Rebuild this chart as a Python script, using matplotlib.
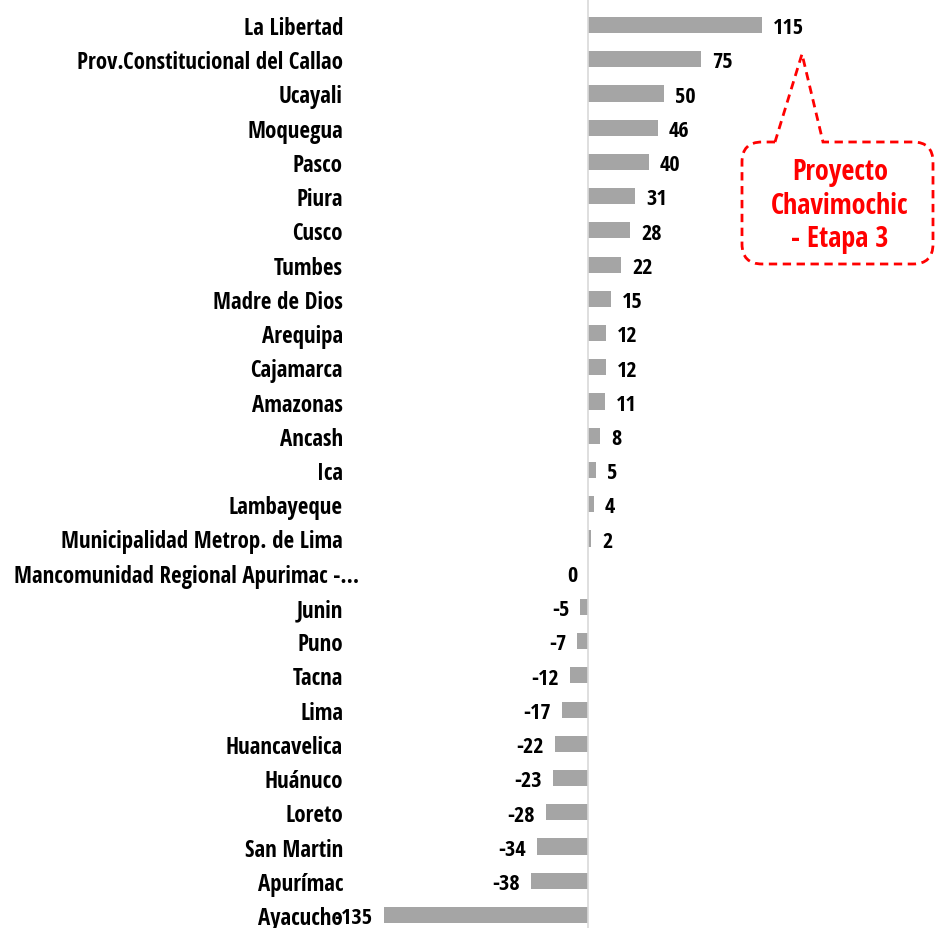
import matplotlib
matplotlib.use("Agg")
import matplotlib.pyplot as plt
from matplotlib import font_manager
from matplotlib.path import Path
from matplotlib.patches import PathPatch
from matplotlib.transforms import ScaledTranslation

categories = ["La Libertad", "Prov.Constitucional del Callao", "Ucayali", "Moquegua", "Pasco",
              "Piura", "Cusco", "Tumbes", "Madre de Dios", "Arequipa", "Cajamarca", "Amazonas",
              "Ancash", "Ica", "Lambayeque", "Municipalidad Metrop. de Lima",
              "Mancomunidad Regional Apurimac -...", "Junin", "Puno", "Tacna", "Lima",
              "Huancavelica", "Huánuco", "Loreto", "San Martin", "Apurímac", "Ayacucho"]
values = [115, 75, 50, 46, 40, 31, 28, 22, 15, 12, 12, 11, 8, 5, 4, 2, 0,
          -5, -7, -12, -17, -22, -23, -28, -34, -38, -135]
callout_text = "Proyecto\nChavimochic\n- Etapa 3"

names = {f.name for f in font_manager.fontManager.ttflist}
fam = "DejaVu Sans"
for cand in ["Liberation Sans Narrow", "Open Sans Condensed", "Roboto Condensed", "Noto Sans", "Lato"]:
    if cand in names:
        fam = cand
        break
plt.rcParams['font.family'] = [fam, 'DejaVu Sans']

W, H = 935, 929
fig = plt.figure(figsize=(W/100, H/100), dpi=100)
renderer = fig.canvas.get_renderer()

def width_at(text, base=12):
    t = fig.text(0, 0, text, fontsize=base, fontweight="bold")
    w = t.get_window_extent(renderer).width
    t.remove()
    return w

cat_fs = 12 * (271 + 342) / (width_at("Prov.Constitucional del Callao") +
                             width_at("Mancomunidad Regional Apurimac -..."))
val_fs = 12 * 31 / width_at("115")
call_fs = 12 * 138 / width_at("Chavimochic")

# pixel geometry
x0px = 588.0
ppu = 174.0 / 115.0
ax_left_px, ax_right_px = 350.0, 935.0
y_first, y_last = 26.0, 916.0
step = (y_last - y_first) / (len(categories) - 1)
ax_top_px = y_first - step / 2
ax_bot_px = y_last + step / 2

ax = fig.add_axes([ax_left_px / W, 1 - ax_bot_px / H, (ax_right_px - ax_left_px) / W,
                   (ax_bot_px - ax_top_px) / H])
ax.set_xlim((ax_left_px - x0px) / ppu, (ax_right_px - x0px) / ppu)
n = len(categories)
ypos = list(range(n))
ax.set_ylim(n - 0.5, -0.5)
ax.barh(ypos, values, height=0.47, color="#A5A5A5")
ax.plot([0, 0], [-0.85, n - 0.5], color="#D9D9D9", lw=1.2, clip_on=False)

for s in ax.spines.values():
    s.set_visible(False)
ax.set_xticks([])
ax.set_yticks(ypos)
ax.set_yticklabels(categories, fontsize=cat_fs, fontweight="bold")
ax.tick_params(axis="y", length=0, pad=7 * 0.72)
for lab in ax.get_yticklabels():
    if lab.get_text().startswith("Mancomunidad"):
        lab.set_transform(lab.get_transform() + ScaledTranslation(16 / 100, 0, fig.dpi_scale_trans))

off = 11 / ppu
for y, v in zip(ypos, values):
    if v > 0:
        ax.text(v + off, y + 0.08, str(v), ha="left", va="center", fontsize=val_fs, fontweight="bold")
    else:
        ax.text(v - off, y + 0.08, str(v), ha="right", va="center", fontsize=val_fs, fontweight="bold")

# callout
def P(x, y):
    return (x / W, 1 - y / H)

L, R, T, B, r = 742, 933, 143, 265, 20
verts = [P(775, T), P(L + r, T), P(L, T), P(L, T + r), P(L, B - r), P(L, B), P(L + r, B),
         P(R - r, B), P(R, B), P(R, B - r), P(R, T + r), P(R, T), P(R - r, T),
         P(823, T), P(802, 55), P(775, T)]
codes = [Path.MOVETO, Path.LINETO, Path.CURVE3, Path.CURVE3, Path.LINETO, Path.CURVE3, Path.CURVE3,
         Path.LINETO, Path.CURVE3, Path.CURVE3, Path.LINETO, Path.CURVE3, Path.CURVE3,
         Path.LINETO, Path.LINETO, Path.CLOSEPOLY]
patch = PathPatch(Path(verts, codes), transform=fig.transFigure, facecolor="white",
                  edgecolor="#FF0000", lw=2, linestyle=(0, (3, 2)))
fig.patches.append(patch)
fig.text(840 / W, 1 - 206 / H, callout_text, ha="center", va="center", color="#FF0000",
         fontsize=call_fs, fontweight="bold", linespacing=1.2)

fig.savefig("out.png", dpi=100)
